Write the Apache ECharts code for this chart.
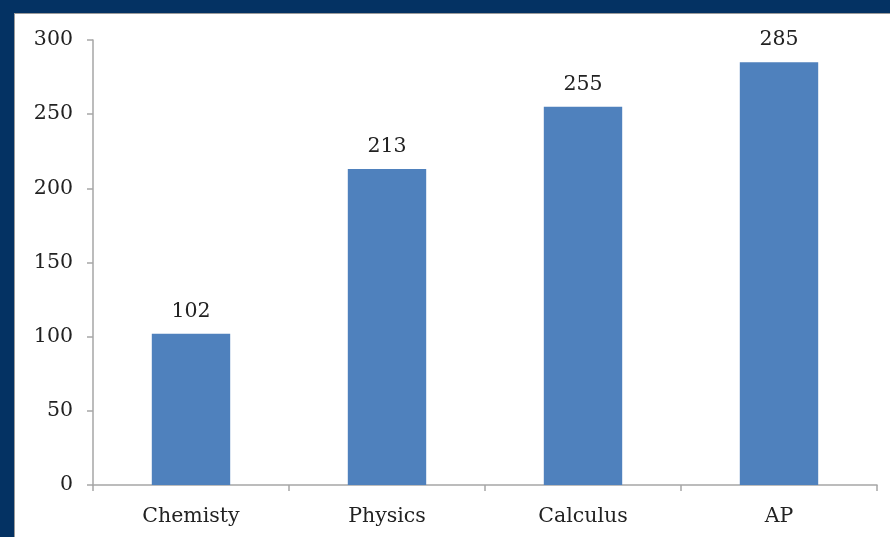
<!DOCTYPE html>
<html>
<head>
<meta charset="utf-8">
<script src="https://cdn.jsdelivr.net/npm/echarts@6/dist/echarts.min.js"></script>
<style>
  html, body { margin: 0; padding: 0; background: #043263; }
  #frame {
    position: absolute; left: 14px; top: 13px; width: 876px; height: 524px;
    background: #ffffff; border-left: 1px solid #9a9a9a; border-top: 1px solid #9a9a9a;
    box-sizing: border-box;
  }
  #chart { position: absolute; left: 0; top: 0; width: 890px; height: 537px; }
</style>
</head>
<body>
<div id="frame"></div>
<div id="chart"></div>
<script>
// 数据
const categories = ['Chemisty', 'Physics', 'Calculus', 'AP'];
const counts = [102, 213, 255, 285];

const FONT = '"DejaVu Serif", serif';

const myChart = echarts.init(document.getElementById('chart'));

const option = {
    animation: false,
    grid: {
        left: 93,
        right: 13,
        top: 40,
        bottom: 52
    },
    xAxis: {
        type: 'category',
        data: categories,
        axisLine: { lineStyle: { color: '#a6a6a6', width: 1.5 } },
        axisTick: { show: true, length: 6, lineStyle: { color: '#a6a6a6', width: 1.5 } },
        axisLabel: {
            color: '#222',
            fontFamily: FONT,
            fontSize: 20.5,
            margin: 21
        }
    },
    yAxis: {
        type: 'value',
        min: 0,
        max: 300,
        interval: 50,
        axisLine: { show: true, lineStyle: { color: '#a6a6a6', width: 1.5 } },
        axisTick: { show: true, length: 6, lineStyle: { color: '#a6a6a6', width: 1.5 } },
        splitLine: { show: false },
        axisLabel: {
            color: '#222',
            fontFamily: FONT,
            fontSize: 20.5,
            margin: 20
        }
    },
    series: [{
        type: 'bar',
        data: counts,
        barWidth: '40%',
        itemStyle: {
            color: '#4f81bd'
        },
        label: {
            show: true,
            position: 'top',
            distance: 12,
            color: '#222',
            fontFamily: FONT,
            fontSize: 20.5
        }
    }]
};

myChart.setOption(option);
</script>
</body>
</html>
